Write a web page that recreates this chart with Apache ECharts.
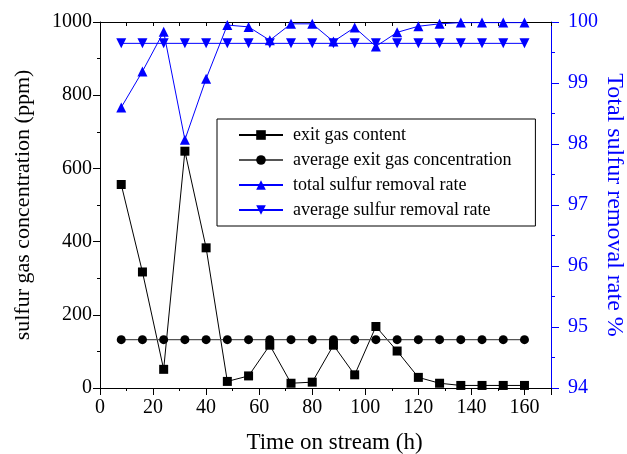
<!DOCTYPE html>
<html>
<head>
    <meta charset="UTF-8">
    <title>sulfur removal</title>
    <script src="https://cdn.jsdelivr.net/npm/echarts@6/dist/echarts.min.js"></script>
    <style>
        html, body { margin: 0; padding: 0; background: #fff; }
        #chart { width: 627px; height: 454px; }
    </style>
</head>
<body>
<div id="chart"></div>
<script type="text/javascript">
    // time on stream (h)
    var hours = [8, 16, 24, 32, 40, 48, 56, 64, 72, 80, 88, 96, 104, 112, 120, 128, 136, 144, 152, 160];
    // sulfur gas at exit (ppm)
    var exitGas = [556, 317, 51, 647, 383, 18, 33, 117, 13, 16, 117, 36, 168, 101, 29, 13, 7, 7, 7, 7];
    var avgExitGas = [132, 132, 132, 132, 132, 132, 132, 132, 132, 132, 132, 132, 132, 132, 132, 132, 132, 132, 132, 132];
    // removal rate (%)
    var removalRate = [98.6, 99.19, 99.84, 98.07, 99.07, 99.95, 99.92, 99.7, 99.97, 99.97, 99.68, 99.91, 99.6, 99.83, 99.93, 99.97, 99.99, 99.99, 99.99, 99.99];
    var avgRemovalRate = [99.65, 99.65, 99.65, 99.65, 99.65, 99.65, 99.65, 99.65, 99.65, 99.65, 99.65, 99.65, 99.65, 99.65, 99.65, 99.65, 99.65, 99.65, 99.65, 99.65];

    var names = ['exit gas content', 'average exit gas concentration', 'total sulfur removal rate', 'average sulfur removal rate'];

    function pairs(xs, ys) {
        var out = [];
        for (var i = 0; i < xs.length; i++) out.push([xs[i], ys[i]]);
        return out;
    }

    var font = 'Liberation Serif, Times New Roman, serif';
    var BLUE = '#0000ff';
    var chart = echarts.init(document.getElementById('chart'));

    // only-ticks axis used for the short minor ticks
    function tickAxis(pos, min, max, step, len, inside, color) {
        return {
            type: 'value', position: pos, min: min, max: max, interval: step,
            axisLine: { show: false, onZero: false },
            axisTick: { show: true, inside: inside, length: len, lineStyle: { color: color } },
            axisLabel: { show: false },
            splitLine: { show: false }
        };
    }

    var option = {
        animation: false,
        textStyle: { fontFamily: font },
        grid: { left: 100, right: 76, top: 22, bottom: 66, outerBoundsMode: 'none' },
        legend: {
            orient: 'vertical',
            left: 217,
            top: 119,
            data: names,
            itemWidth: 44,
            itemHeight: 12,
            itemGap: 7,
            padding: [7, 24, 7, 21],
            borderColor: '#000',
            borderWidth: 1,
            borderRadius: 0,
            textStyle: { fontFamily: font, fontSize: 18, lineHeight: 18, color: '#000', padding: [0, 0, 0, 5] }
        },
        xAxis: [
            {
                type: 'value', min: 0, max: 170, interval: 20,
                name: 'Time on stream (h)', nameLocation: 'middle', nameGap: 43,
                nameTextStyle: { fontSize: 23, color: '#000', padding: [0, 0, 0, 18] },
                axisLine: { show: true, onZero: false, lineStyle: { color: '#000', width: 1 } },
                axisTick: { show: true, inside: false, length: 7, lineStyle: { color: '#000' } },
                axisLabel: {
                    fontSize: 20, color: '#000', margin: 10,
                    formatter: function (v) { return v > 160 ? '' : String(v); }
                },
                splitLine: { show: false }
            },
            tickAxis('bottom', 0, 170, 10, 3, false, '#000'),
            {
                type: 'value', position: 'top', min: 0, max: 170, interval: 10,
                axisLine: { show: true, onZero: false, lineStyle: { color: '#000', width: 1 } },
                axisTick: { show: true, inside: true, length: 4, lineStyle: { color: '#000' } },
                axisLabel: { show: false },
                splitLine: { show: false }
            }
        ],
        yAxis: [
            {
                type: 'value', min: 0, max: 1000, interval: 200,
                name: 'sulfur gas concentration (ppm)', nameLocation: 'middle', nameGap: 66,
                nameTextStyle: { fontSize: 22, color: '#000' },
                axisLine: { show: true, onZero: false, lineStyle: { color: '#000', width: 1 } },
                axisTick: { show: true, inside: false, length: 7, lineStyle: { color: '#000' } },
                axisLabel: {
                    fontSize: 20, color: '#000', margin: 8,
                    formatter: function (v) { return String(v); }
                },
                splitLine: { show: false }
            },
            {
                type: 'value', min: 94, max: 100, interval: 1, position: 'right',
                name: 'Total sulfur removal rate %', nameLocation: 'middle', nameGap: 51, nameRotate: -90,
                nameMoveOverlap: false,
                nameTextStyle: { fontSize: 24, color: BLUE },
                axisLine: { show: true, onZero: false, lineStyle: { color: BLUE, width: 1 } },
                axisTick: { show: true, inside: false, length: 8, lineStyle: { color: BLUE } },
                axisLabel: { fontSize: 20, color: BLUE, margin: 17 },
                splitLine: { show: false }
            },
            tickAxis('right', 94, 100, 0.5, 4, false, BLUE),
            tickAxis('left', 0, 1000, 100, 3, false, '#000')
        ],
        series: [
            {
                name: names[0], type: 'line', yAxisIndex: 0,
                data: pairs(hours, exitGas),
                symbol: 'rect', symbolSize: 9,
                lineStyle: { color: '#000', width: 1 },
                itemStyle: { color: '#000' }
            },
            {
                name: names[1], type: 'line', yAxisIndex: 0,
                data: pairs(hours, avgExitGas),
                symbol: 'circle', symbolSize: 9,
                lineStyle: { color: '#555', width: 1.3 },
                itemStyle: { color: '#000' }
            },
            {
                name: names[2], type: 'line', yAxisIndex: 1,
                data: pairs(hours, removalRate),
                symbol: 'triangle', symbolSize: 10,
                lineStyle: { color: BLUE, width: 1 },
                itemStyle: { color: BLUE }
            },
            {
                name: names[3], type: 'line', yAxisIndex: 1,
                data: pairs(hours, avgRemovalRate),
                symbol: 'triangle', symbolSize: 10, symbolRotate: 180,
                lineStyle: { color: BLUE, width: 1 },
                itemStyle: { color: BLUE }
            }
        ]
    };
    chart.setOption(option);
</script>
</body>
</html>
